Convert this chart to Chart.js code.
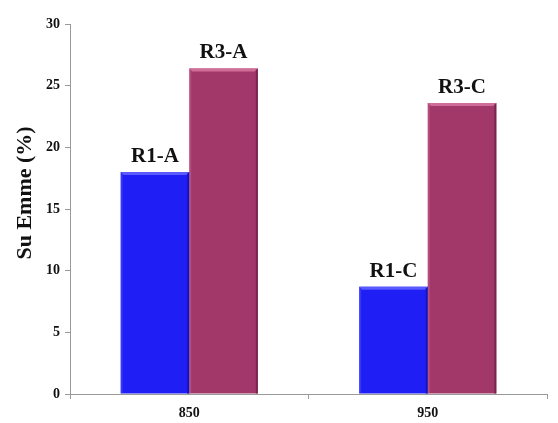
<!DOCTYPE html>
<html>
<head>
<meta charset="utf-8">
<script src="https://cdn.jsdelivr.net/npm/chart.js@4/dist/chart.umd.min.js"></script>
<style>
  html, body { margin: 0; padding: 0; background: #fff; }
  #wrap { width: 558px; height: 423px; }
</style>
</head>
<body>
<div id="wrap"><canvas id="c" width="558" height="423"></canvas></div>
<script>
// Temperatures on the category axis
const categories = ['850', '950'];
// Water absorption (%) for each series
const r1Values = [18.0, 8.7];
const r3Values = [26.4, 23.6];
// Text written above each bar
const r1Labels = ['R1-A', 'R1-C'];
const r3Labels = ['R3-A', 'R3-C'];
// Value axis ticks
const yTicks = [0, 5, 10, 15, 20, 25, 30];
const yTitle = 'Su Emme (%)';

const SERIF = '"Liberation Serif", "Times New Roman", serif';

// Bevel highlight on top of each bar plus bar labels
const barDecor = {
  id: 'barDecor',
  afterDatasetsDraw(chart) {
    const ctx = chart.ctx;
    chart.data.datasets.forEach((ds, di) => {
      const meta = chart.getDatasetMeta(di);
      meta.data.forEach((bar, i) => {
        const { x, y, base, width } = bar.getProps(['x', 'y', 'base', 'width'], true);
        const l = x - width / 2, r = x + width / 2;
        ctx.save();
        // light top edge
        ctx.fillStyle = ds.edgeLight;
        ctx.beginPath();
        ctx.moveTo(l, y); ctx.lineTo(r, y); ctx.lineTo(r - 3, y + 3); ctx.lineTo(l + 3, y + 3); ctx.closePath();
        ctx.fill();
        // left edge
        ctx.globalAlpha = 0.4;
        ctx.beginPath();
        ctx.moveTo(l, y); ctx.lineTo(l + 2, y + 2); ctx.lineTo(l + 2, base); ctx.lineTo(l, base); ctx.closePath();
        ctx.fill();
        // dark right edge
        ctx.globalAlpha = 1;
        ctx.fillStyle = ds.edgeDark;
        ctx.beginPath();
        ctx.moveTo(r, y); ctx.lineTo(r - 2, y + 2); ctx.lineTo(r - 2, base); ctx.lineTo(r, base); ctx.closePath();
        ctx.fill();
        // label above the bar
        ctx.fillStyle = '#111';
        ctx.font = 'bold 21px ' + SERIF;
        ctx.textAlign = 'center';
        ctx.textBaseline = 'bottom';
        ctx.fillText(ds.barLabels[i], x, y - 5);
        ctx.restore();
      });
    });
  }
};

// Rotated value-axis title, placed a little above the axis midpoint
const axisTitle = {
  id: 'axisTitle',
  afterDraw(chart) {
    const ctx = chart.ctx;
    const ys = chart.scales.y;
    const cy = ys.getPixelForValue(16.3);
    ctx.save();
    ctx.translate(25, cy);
    ctx.rotate(-Math.PI / 2);
    ctx.fillStyle = '#111';
    ctx.font = 'bold 22px ' + SERIF;
    ctx.textAlign = 'center';
    ctx.textBaseline = 'middle';
    ctx.fillText(yTitle, 0, 0);
    ctx.restore();
  }
};

new Chart(document.getElementById('c'), {
  type: 'bar',
  data: {
    labels: categories,
    datasets: [
      {
        label: 'R1',
        data: r1Values,
        barLabels: r1Labels,
        backgroundColor: '#1f1ff5',
        edgeLight: '#5a5aff',
        edgeDark: '#1414b8',
        borderWidth: 0,
        categoryPercentage: 0.575,
        barPercentage: 1.0
      },
      {
        label: 'R3',
        data: r3Values,
        barLabels: r3Labels,
        backgroundColor: '#a2386a',
        edgeLight: '#cf6c98',
        edgeDark: '#7a2550',
        borderWidth: 0,
        categoryPercentage: 0.575,
        barPercentage: 1.0
      }
    ]
  },
  options: {
    responsive: false,
    animation: false,
    layout: { padding: { top: 24, right: 11, left: 0, bottom: 0 } },
    plugins: {
      legend: { display: false },
      tooltip: { enabled: false }
    },
    scales: {
      x: {
        grid: {
          display: true,
          drawOnChartArea: false,
          drawTicks: true,
          tickLength: 5,
          color: '#9a9a9a',
          offset: true
        },
        border: { color: '#9a9a9a', width: 1 },
        ticks: {
          color: '#111',
          font: { family: SERIF, size: 14, weight: 'bold' },
          padding: 6
        },
        afterFit(s) { s.height = 29; }
      },
      y: {
        min: 0,
        max: 30,
        afterBuildTicks(s) { s.ticks = yTicks.map(v => ({ value: v })); },
        grid: {
          display: true,
          drawOnChartArea: false,
          drawTicks: true,
          tickLength: 5,
          color: '#9a9a9a'
        },
        border: { color: '#9a9a9a', width: 1 },
        ticks: {
          color: '#111',
          font: { family: SERIF, size: 14, weight: 'bold' },
          padding: 5
        },
        title: { display: false },
        afterFit(s) { s.width = 70; }
      }
    }
  },
  plugins: [barDecor, axisTitle]
});
</script>
</body>
</html>
